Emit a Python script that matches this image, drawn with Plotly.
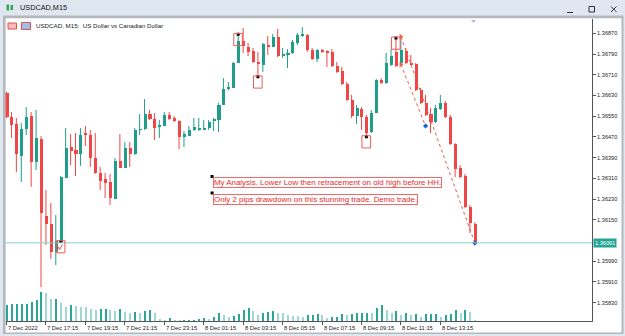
import plotly.graph_objects as go

# ---------------- data ----------------
bar_index = list(range(96))  # 15-minute bars, 7 Dec 2022 15:15 ... 8 Dec 15:00

opens = [1.36639, 1.36547, 1.36520, 1.36396, 1.36500, 1.36551, 1.36373, 1.36462, 1.36165, 1.36134,
         1.36026, 1.36064, 1.36311, 1.36431, 1.36419, 1.36404, 1.36485, 1.36477, 1.36389, 1.36331,
         1.36307, 1.36296, 1.36230, 1.36377, 1.36350, 1.36427, 1.36404, 1.36497, 1.36500, 1.36558,
         1.36539, 1.36508, 1.36512, 1.36555, 1.36543, 1.36531, 1.36470, 1.36473, 1.36497, 1.36497,
         1.36500, 1.36504, 1.36531, 1.36535, 1.36593, 1.36655, 1.36659, 1.36755, 1.36840, 1.36817,
         1.36802, 1.36759, 1.36748, 1.36825, 1.36817, 1.36856, 1.36782, 1.36786, 1.36794, 1.36833,
         1.36860, 1.36863, 1.36805, 1.36771, 1.36805, 1.36798, 1.36798, 1.36744, 1.36724, 1.36674,
         1.36612, 1.36551, 1.36578, 1.36547, 1.36489, 1.36562, 1.36690, 1.36678, 1.36748, 1.36798,
         1.36755, 1.36802, 1.36755, 1.36751, 1.36651, 1.36601, 1.36558, 1.36527, 1.36578, 1.36601,
         1.36547, 1.36443, 1.36350, 1.36319, 1.36199, 1.36134]
highs = [1.36643, 1.36566, 1.36543, 1.36524, 1.36585, 1.36566, 1.36574, 1.36473, 1.36265, 1.36215,
         1.36168, 1.36319, 1.36504, 1.36481, 1.36485, 1.36504, 1.36512, 1.36497, 1.36485, 1.36354,
         1.36331, 1.36327, 1.36389, 1.36481, 1.36450, 1.36450, 1.36504, 1.36558, 1.36616, 1.36574,
         1.36562, 1.36535, 1.36566, 1.36566, 1.36551, 1.36535, 1.36493, 1.36512, 1.36543, 1.36543,
         1.36535, 1.36535, 1.36543, 1.36601, 1.36697, 1.36682, 1.36759, 1.36867, 1.36890, 1.36833,
         1.36813, 1.36798, 1.36833, 1.36860, 1.36867, 1.36887, 1.36813, 1.36809, 1.36844, 1.36871,
         1.36894, 1.36867, 1.36813, 1.36809, 1.36809, 1.36805, 1.36809, 1.36759, 1.36740, 1.36682,
         1.36632, 1.36593, 1.36585, 1.36555, 1.36574, 1.36693, 1.36697, 1.36794, 1.36809, 1.36856,
         1.36848, 1.36813, 1.36786, 1.36755, 1.36659, 1.36632, 1.36582, 1.36593, 1.36632, 1.36609,
         1.36555, 1.36446, 1.36361, 1.36327, 1.36207, 1.36141]
lows = [1.36543, 1.36466, 1.36334, 1.36296, 1.36477, 1.36277, 1.36342, 1.35890, 1.36053, 1.35999,
        1.35975, 1.36060, 1.36311, 1.36361, 1.36319, 1.36358, 1.36435, 1.36354, 1.36327, 1.36265,
        1.36234, 1.36207, 1.36230, 1.36350, 1.36350, 1.36354, 1.36400, 1.36477, 1.36497, 1.36535,
        1.36458, 1.36466, 1.36512, 1.36535, 1.36527, 1.36423, 1.36431, 1.36473, 1.36493, 1.36493,
        1.36497, 1.36497, 1.36493, 1.36489, 1.36593, 1.36651, 1.36659, 1.36755, 1.36794, 1.36782,
        1.36755, 1.36701, 1.36721, 1.36786, 1.36817, 1.36778, 1.36775, 1.36736, 1.36790, 1.36825,
        1.36856, 1.36798, 1.36767, 1.36759, 1.36794, 1.36740, 1.36740, 1.36717, 1.36670, 1.36609,
        1.36543, 1.36520, 1.36497, 1.36470, 1.36485, 1.36562, 1.36674, 1.36674, 1.36744, 1.36740,
        1.36751, 1.36751, 1.36748, 1.36647, 1.36597, 1.36551, 1.36485, 1.36524, 1.36574, 1.36543,
        1.36439, 1.36315, 1.36311, 1.36195, 1.36099, 1.36060]
closes = [1.36547, 1.36516, 1.36404, 1.36500, 1.36547, 1.36373, 1.36466, 1.36176, 1.36134, 1.36026,
          1.36068, 1.36315, 1.36427, 1.36415, 1.36404, 1.36477, 1.36477, 1.36389, 1.36331, 1.36300,
          1.36292, 1.36234, 1.36377, 1.36350, 1.36427, 1.36404, 1.36497, 1.36500, 1.36558, 1.36539,
          1.36504, 1.36516, 1.36555, 1.36539, 1.36531, 1.36470, 1.36481, 1.36497, 1.36508, 1.36504,
          1.36504, 1.36527, 1.36539, 1.36593, 1.36655, 1.36659, 1.36755, 1.36840, 1.36821, 1.36798,
          1.36759, 1.36751, 1.36829, 1.36817, 1.36856, 1.36782, 1.36790, 1.36794, 1.36836, 1.36863,
          1.36863, 1.36805, 1.36771, 1.36805, 1.36798, 1.36794, 1.36744, 1.36721, 1.36674, 1.36612,
          1.36551, 1.36582, 1.36547, 1.36485, 1.36562, 1.36690, 1.36678, 1.36755, 1.36782, 1.36744,
          1.36805, 1.36755, 1.36751, 1.36651, 1.36601, 1.36555, 1.36527, 1.36582, 1.36601, 1.36547,
          1.36443, 1.36346, 1.36315, 1.36199, 1.36138, 1.36061]
volumes = [48, 50, 50, 50, 51, 58, 62, 88, 83, 66, 66,
           53, 42, 47, 45, 43, 42, 37, 32, 37, 37,
           32, 29, 37, 27, 23, 27, 23, 30, 33, 25,
           5, 2, 8, 3, 1, 1, 1, 1, 6, 8,
           5, 13, 23, 19, 13, 15, 22, 32, 38, 29,
           18, 25, 28, 29, 25, 23, 18, 15, 14,
           13, 18, 19, 21, 17, 8, 13, 13, 20, 18,
           20, 23, 23, 25, 23, 40, 47, 32, 25, 29,
           17, 23, 18, 22, 13, 22, 22, 22, 13, 19,
           20, 32, 25, 32, 28, 1]

time_tick_index = [0, 8, 16, 24, 32, 40, 48, 56, 64, 72, 80, 88]
time_tick_labels = ["7 Dec 2022", "7 Dec 17:15", "7 Dec 19:15", "7 Dec 21:15", "7 Dec 23:15",
                    "8 Dec 01:15", "8 Dec 03:15", "8 Dec 05:15", "8 Dec 07:15", "8 Dec 09:15",
                    "8 Dec 11:15", "8 Dec 13:15"]
price_ticks = [1.36870, 1.36790, 1.36710, 1.36630, 1.36550, 1.36470, 1.36390,
               1.36310, 1.36230, 1.36150, 1.35990, 1.35910, 1.35830]
current_price = 1.36061

# chart objects (bar index, price)
sign_points = [(11, 1.36066), (47, 1.36866), (51, 1.36702), (73, 1.36471), (79, 1.36852)]
trade_open = [(80, 1.36857), (80, 1.36750)]
trade_close = [(95, 1.36060), (85, 1.36512)]
text_labels = [(41.7, 1.36317, "My Analysis. Lower Low then retracement on old high before HH."),
               (41.7, 1.36253, "Only 2 pips drawdown on this stunning trade. Demo trade.")]

# ---------------- geometry of the MT4 window ----------------
W, H = 625, 336
PX_L, PX_R, PX_T, PX_B = 5.5, 592.0, 19.0, 321.0
BAR_PX = 4.93
X0_PX = 6.5
P_REF, Y_REF, P_PER_PX = 1.36870, 33.3, 0.00003861

def price_at(ypx):
    return P_REF - (ypx - Y_REF) * P_PER_PX

x_range = [(PX_L - X0_PX) / BAR_PX, (PX_R - X0_PX) / BAR_PX]
y_range = [price_at(PX_B), price_at(PX_T)]

def fx(px):
    return px / W

def fy(py):
    return 1 - py / H

RED = "#ef4646"
TEAL = "#1f9e8a"
FONT = "Liberation Sans, Arial, sans-serif"

fig = go.Figure()

# volumes
vcol = []
for i, v in enumerate(volumes):
    if i == 0 or v >= volumes[i - 1]:
        vcol.append("#2aa596")
    else:
        vcol.append("#9fd8d0")
fig.add_trace(go.Bar(x=bar_index, y=volumes, width=0.22, marker=dict(color=vcol, line=dict(width=0)),
                     yaxis="y2", hoverinfo="skip", showlegend=False))

# wicks
for col, up in ((TEAL, True), (RED, False)):
    xs, ys = [], []
    for i in bar_index:
        if (closes[i] >= opens[i]) == up:
            xs += [i, i, None]
            ys += [lows[i], highs[i], None]
    fig.add_trace(go.Scatter(x=xs, y=ys, mode="lines", line=dict(color=col, width=1),
                             hoverinfo="skip", showlegend=False))

# bodies
base = [min(o, c) for o, c in zip(opens, closes)]
height = [max(abs(c - o), 0.000035) for o, c in zip(opens, closes)]
bcol = [TEAL if c >= o else RED for o, c in zip(opens, closes)]
fig.add_trace(go.Bar(x=bar_index, y=height, base=base, width=0.62,
                     marker=dict(color=bcol, line=dict(width=0)), hoverinfo="skip", showlegend=False))

shapes = []
# window chrome
shapes.append(dict(type="rect", xref="paper", yref="paper", x0=fx(3), x1=fx(623.5), y0=fy(334), y1=fy(15.5),
                   fillcolor="#b4b7bb", line=dict(width=0), layer="below"))
shapes.append(dict(type="rect", xref="paper", yref="paper", x0=fx(5.6), x1=fx(621.5), y0=fy(332.5), y1=fy(18.3),
                   fillcolor="#ffffff", line=dict(width=0), layer="below"))
# window buttons
shapes.append(dict(type="line", xref="paper", yref="paper", x0=fx(567), x1=fx(573), y0=fy(12.5), y1=fy(12.5),
                   line=dict(color="#333", width=1)))
shapes.append(dict(type="rect", xref="paper", yref="paper", x0=fx(589), x1=fx(594.5), y0=fy(12), y1=fy(6.5),
                   line=dict(color="#333", width=1)))
shapes.append(dict(type="line", xref="paper", yref="paper", x0=fx(611), x1=fx(616.5), y0=fy(6.5), y1=fy(12),
                   line=dict(color="#333", width=1)))
shapes.append(dict(type="line", xref="paper", yref="paper", x0=fx(611), x1=fx(616.5), y0=fy(12), y1=fy(6.5),
                   line=dict(color="#333", width=1)))
# title icon
shapes.append(dict(type="rect", xref="paper", yref="paper", x0=fx(6.5), x1=fx(9), y0=fy(10.5), y1=fy(4.5),
                   fillcolor="#2fa84f", line=dict(width=0)))
shapes.append(dict(type="rect", xref="paper", yref="paper", x0=fx(10.5), x1=fx(13), y0=fy(10), y1=fy(5),
                   fillcolor="#2fa84f", line=dict(width=0)))
# chart header icons
shapes.append(dict(type="rect", xref="paper", yref="paper", x0=fx(8), x1=fx(16.5), y0=fy(29), y1=fy(23),
                   fillcolor="#f7b8b8", line=dict(color="#e35050", width=1)))
shapes.append(dict(type="rect", xref="paper", yref="paper", x0=fx(21.5), x1=fx(30.5), y0=fy(29.5), y1=fy(22.5),
                   fillcolor="#9cc0ea", line=dict(color="#e35050", width=1)))
# chart shift marker
shapes.append(dict(type="path", xref="paper", yref="paper",
                   path=f"M {fx(471)} {fy(20)} L {fx(476)} {fy(20)} L {fx(473.5)} {fy(22.8)} Z",
                   fillcolor="#b8b8b8", line=dict(width=0)))
# current price line
shapes.append(dict(type="line", xref="x domain", yref="y", x0=0, x1=1, y0=current_price, y1=current_price,
                   line=dict(color="#84d0c7", width=1)))

# sign boxes
for (bi, pr) in sign_points:
    shapes.append(dict(type="rect", xref="x", yref="y", x0=bi - 0.9, x1=bi + 0.85,
                       y0=pr - 11.3 * P_PER_PX, y1=pr + 0.9 * P_PER_PX,
                       line=dict(color="#f25a5a", width=1)))

fig.update_layout(shapes=shapes)

# check mark in first box
bi, pr = sign_points[0]
fig.add_trace(go.Scatter(x=[bi - 0.55, bi - 0.25, bi + 0.35],
                         y=[pr - 5.5 * P_PER_PX, pr - 8 * P_PER_PX, pr - 3 * P_PER_PX],
                         mode="lines", line=dict(color="#f04040", width=1), hoverinfo="skip", showlegend=False))

# trade lines
for (o, c) in zip(trade_open, trade_close):
    fig.add_trace(go.Scatter(x=[o[0], c[0]], y=[o[1], c[1]], mode="lines",
                             line=dict(color="#ee5a50", width=1, dash="dot"), hoverinfo="skip", showlegend=False))
fig.add_trace(go.Scatter(x=[p[0] for p in trade_open], y=[p[1] for p in trade_open], mode="markers",
                         marker=dict(symbol="triangle-right", size=5, color="#f0603a"),
                         hoverinfo="skip", showlegend=False))
fig.add_trace(go.Scatter(x=[p[0] for p in trade_close], y=[p[1] for p in trade_close], mode="markers",
                         marker=dict(symbol="diamond", size=4, color="#1a5fd0"),
                         hoverinfo="skip", showlegend=False))

# anchor dots
fig.add_trace(go.Scatter(x=[p[0] for p in sign_points] + [t[0] for t in text_labels],
                         y=[p[1] for p in sign_points] + [t[1] for t in text_labels],
                         mode="markers", marker=dict(symbol="square", size=3, color="#000"),
                         hoverinfo="skip", showlegend=False))

annotations = []
for (xi, pr, txt) in text_labels:
    annotations.append(dict(x=xi, y=pr, xref="x", yref="y", text=txt, showarrow=False,
                            xanchor="left", yanchor="top", xshift=0.5, yshift=-0.5,
                            font=dict(family=FONT, size=7.9, color="#e82a2a"),
                            bordercolor="#f06a6a", borderwidth=1, borderpad=0))
for ti, tl in zip(time_tick_index, time_tick_labels):
    annotations.append(dict(x=ti, y=fy(328), xref="x", yref="paper", text=tl, showarrow=False,
                            xanchor="left", yanchor="middle", xshift=-0.5,
                            font=dict(family=FONT, size=5.8, color="#222")))
annotations.append(dict(x=fx(34), y=fy(26), xref="paper", yref="paper", showarrow=False,
                        text="USDCAD, M15:  US Dollar vs Canadian Dollar", xanchor="left", yanchor="middle",
                        font=dict(family=FONT, size=6.2, color="#222")))
annotations.append(dict(x=fx(17.5), y=fy(7.5), xref="paper", yref="paper", showarrow=False,
                        text="USDCAD,M15", xanchor="left", yanchor="middle",
                        font=dict(family=FONT, size=7.3, color="#111")))
annotations.append(dict(x=fx(593), y=current_price, xref="paper", yref="y", showarrow=False,
                        text=f"{current_price:.5f}", xanchor="left", yanchor="middle",
                        bgcolor="#26a592", borderpad=1,
                        font=dict(family=FONT, size=5.6, color="#ffffff")))

fig.update_layout(
    width=W, height=H,
    margin=dict(l=0, r=0, t=0, b=0),
    paper_bgcolor="#dfe8f1",
    plot_bgcolor="#ffffff",
    barmode="overlay",
    bargap=0,
    annotations=annotations,
    xaxis=dict(domain=[fx(PX_L), fx(PX_R)], range=x_range, showgrid=False, zeroline=False,
               showline=True, linecolor="#555", linewidth=1,
               ticks="outside", ticklen=3, tickcolor="#555", tickvals=time_tick_index,
               showticklabels=False, fixedrange=True),
    yaxis=dict(domain=[fy(PX_B), fy(PX_T)], range=y_range, side="right", showgrid=False, zeroline=False,
               showline=True, linecolor="#555", linewidth=1, ticks="outside", ticklen=3, tickcolor="#555",
               tickvals=price_ticks, ticktext=[f"{p:.5f}" for p in price_ticks],
               tickfont=dict(family=FONT, size=5.6, color="#222"), fixedrange=True),
    yaxis2=dict(overlaying="y", range=[0, (PX_B - PX_T) * 3], visible=False, fixedrange=True),
)

fig.write_html("out.html", config={"displayModeBar": False})
